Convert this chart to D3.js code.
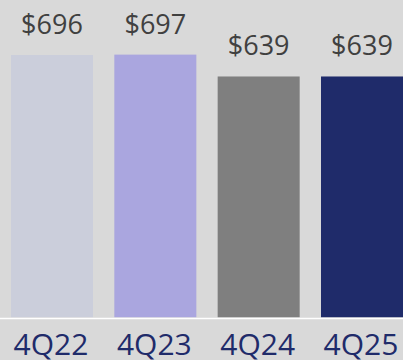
<!DOCTYPE html>
<html><head><meta charset="utf-8">
<script src="https://cdn.jsdelivr.net/npm/d3@7"></script>
<style>html,body{margin:0;padding:0;background:#d9d9d9;overflow:hidden}</style>
</head><body>
<svg id="c" width="403" height="360"></svg>
<script>
const categories = ["4Q22", "4Q23", "4Q24", "4Q25"];
const values = [696, 697, 639, 639];
const valueLabels = ["$696", "$697", "$639", "$639"];
const colors = ["#cbcedb", "#aaa6df", "#7f7f7f", "#1f2b6a"];

const svg = d3.select("#c");
svg.append("rect").attr("width", 403).attr("height", 360).attr("fill", "#d9d9d9");

const baseY = 317.3;
const x = d3.scaleBand().domain(categories).range([11, 403]).paddingInner(0.2065).paddingOuter(0);
const y = d3.scaleLinear().domain([0, 696]).range([baseY, 55]);

svg.selectAll("rect.bar").data(categories).enter().append("rect")
  .attr("class", "bar")
  .attr("x", d => x(d))
  .attr("width", x.bandwidth())
  .attr("y", (d, i) => y(values[i]))
  .attr("height", (d, i) => baseY - y(values[i]))
  .attr("fill", (d, i) => colors[i]);

svg.append("line").attr("x1", 0).attr("x2", 403).attr("y1", 318.5).attr("y2", 318.5)
  .attr("stroke", "#ffffff").attr("stroke-width", 1.6);

svg.selectAll("text.val").data(categories).enter().append("text")
  .attr("class", "val")
  .attr("x", d => x(d) + x.bandwidth() / 2)
  .attr("y", (d, i) => y(values[i]) - 21)
  .attr("text-anchor", "middle")
  .attr("font-family", "'Open Sans', sans-serif")
  .attr("font-size", 27)
  .attr("fill", "#404040")
  .text((d, i) => valueLabels[i]);

svg.selectAll("text.cat").data(categories).enter().append("text")
  .attr("class", "cat")
  .attr("x", d => x(d) + x.bandwidth() / 2 - 1)
  .attr("y", 355)
  .attr("text-anchor", "middle")
  .attr("font-family", "'Open Sans', sans-serif")
  .attr("font-size", 30)
  .attr("fill", "#1f2b6a")
  .text(d => d);
</script>
</body></html>
